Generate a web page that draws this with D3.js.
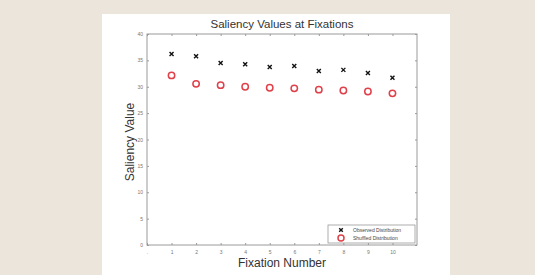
<!DOCTYPE html>
<html>
<head>
<meta charset="utf-8">
<script src="https://cdn.jsdelivr.net/npm/d3@7"></script>
<style>
  body { margin: 0; background: #ece5dc; }
  svg { display: block; font-family: "Liberation Sans", Arial, sans-serif; }
</style>
</head>
<body>
<script>
// values
var fixations = [1, 2, 3, 4, 5, 6, 7, 8, 9, 10];
var observed = [36.2, 35.8, 34.5, 34.25, 33.75, 33.95, 33.0, 33.2, 32.6, 31.7];
var shuffled = [32.15, 30.55, 30.3, 30.0, 29.8, 29.7, 29.45, 29.3, 29.1, 28.75];
var xTicks = [0, 1, 2, 3, 4, 5, 6, 7, 8, 9, 10];
var yTicks = [0, 5, 10, 15, 20, 25, 30, 35, 40];
var legendNames = ["Observed Distribution", "Shuffled Distribution"];

var W = 535, H = 275;
var m = {l: 147, r: 417, t: 34, b: 245};

var svg = d3.select("body").append("svg")
    .attr("width", W).attr("height", H);

// white figure panel
svg.append("rect").attr("x", 102).attr("y", 14)
    .attr("width", 348).attr("height", H - 14).attr("fill", "#fff");

var x = d3.scaleLinear().domain([0, 11]).range([m.l, m.r]);
var y = d3.scaleLinear().domain([0, 40]).range([m.b, m.t]);

var axisCol = "#9a9a9a";

// box
svg.append("rect").attr("x", m.l).attr("y", m.t)
    .attr("width", m.r - m.l).attr("height", m.b - m.t)
    .attr("fill", "none").attr("stroke", axisCol).attr("stroke-width", 1);

function styleAxis(g) {
    g.select(".domain").remove();
    g.selectAll(".tick line").attr("stroke", axisCol);
    g.selectAll(".tick text").attr("fill", "#777").style("font-size", "5px");
}

svg.append("g").attr("transform", "translate(0," + m.b + ")")
    .call(d3.axisBottom(x).tickValues(xTicks).tickSizeInner(-2).tickSizeOuter(0).tickPadding(5)
        .tickFormat(function(d) { return d === 0 ? "." : d; }))
    .call(styleAxis);
svg.append("g").attr("transform", "translate(0," + m.t + ")")
    .call(d3.axisTop(x).tickValues(xTicks).tickSizeInner(-2).tickSizeOuter(0).tickFormat(""))
    .call(styleAxis);
svg.append("g").attr("transform", "translate(" + m.l + ",0)")
    .call(d3.axisLeft(y).tickValues(yTicks).tickSizeInner(-2).tickSizeOuter(0).tickPadding(4))
    .call(styleAxis);
svg.append("g").attr("transform", "translate(" + m.r + ",0)")
    .call(d3.axisRight(y).tickValues(yTicks).tickSizeInner(-2).tickSizeOuter(0).tickFormat(""))
    .call(styleAxis);

// title and labels
svg.append("text").attr("x", 282).attr("y", 28).attr("text-anchor", "middle")
    .attr("fill", "#333").style("font-size", "11.5px").text("Saliency Values at Fixations");
svg.append("text").attr("x", 282).attr("y", 267).attr("text-anchor", "middle")
    .attr("fill", "#333").style("font-size", "12px").text("Fixation Number");
svg.append("text").attr("transform", "translate(134,142) rotate(-90)")
    .attr("text-anchor", "middle")
    .attr("fill", "#333").style("font-size", "12px").text("Saliency Value");

var red = "#e0404a";

function cross(sel, s) {
    sel.append("path")
        .attr("d", "M" + (-s) + "," + (-s) + "L" + s + "," + s + "M" + (-s) + "," + s + "L" + s + "," + (-s))
        .attr("stroke", "#111").attr("stroke-width", 1.4).attr("fill", "none");
}

// shuffled (circles)
svg.append("g").selectAll("circle").data(fixations).join("circle")
    .attr("cx", function(d) { return x(d); })
    .attr("cy", function(d, i) { return y(shuffled[i]); })
    .attr("r", 3.2).attr("fill", "none").attr("stroke", red).attr("stroke-width", 1.5);

// observed (crosses)
svg.append("g").selectAll("g").data(fixations).join("g")
    .attr("transform", function(d, i) { return "translate(" + x(d) + "," + y(observed[i]) + ")"; })
    .each(function() { cross(d3.select(this), 2); });

// legend
var lg = svg.append("g").attr("transform", "translate(328,225)");
lg.append("rect").attr("width", 87).attr("height", 18)
    .attr("fill", "#fff").attr("stroke", axisCol).attr("stroke-width", 0.8);
var row = lg.selectAll("g").data(legendNames).join("g")
    .attr("transform", function(d, i) { return "translate(13," + (5 + i * 8) + ")"; });
row.each(function(d, i) {
    var g = d3.select(this);
    if (i === 0) cross(g, 1.8);
    else g.append("circle").attr("r", 3).attr("fill", "none")
        .attr("stroke", red).attr("stroke-width", 1.5);
});
row.append("text").attr("x", 12).attr("y", 2).attr("fill", "#444")
    .style("font-size", "5px").text(function(d) { return d; });
</script>
</body>
</html>
